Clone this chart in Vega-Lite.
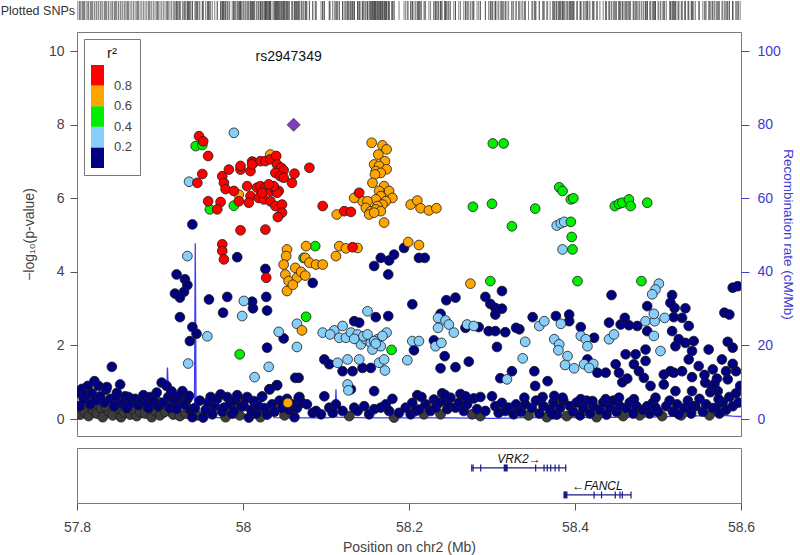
{
"$schema":"https://vega.github.io/schema/vega-lite/v6.json",
"padding":0,
"background":"white",
"config":{"font":"Liberation Sans","view":{"stroke":"#7a7a7a"},"axis":{"grid":false,"titleFontWeight":"normal"}},
"resolve":{"legend":{"fill":"independent"}},
"datasets":{
"snps":[
{"pos":57.804,"lp":0.12,"r2":null},{"pos":57.809,"lp":0.2,"r2":null},{"pos":57.814,"lp":0.08,"r2":null},{"pos":57.819,"lp":0.25,"r2":null},{"pos":57.824,"lp":0.15,"r2":null},{"pos":57.829,"lp":0.3,"r2":null},{"pos":57.831,"lp":0.05,"r2":null},{"pos":57.838,"lp":0.22,"r2":null},{"pos":57.843,"lp":0.1,"r2":null},{"pos":57.85,"lp":0.28,"r2":null},{"pos":57.853,"lp":0.05,"r2":null},{"pos":57.857,"lp":0.18,"r2":null},{"pos":57.864,"lp":0.12,"r2":null},{"pos":57.868,"lp":0.25,"r2":null},{"pos":57.872,"lp":0.08,"r2":null},{"pos":57.876,"lp":0.2,"r2":null},{"pos":57.882,"lp":0.15,"r2":null},{"pos":57.89,"lp":0.05,"r2":null},{"pos":57.894,"lp":0.22,"r2":null},{"pos":57.9,"lp":0.1,"r2":null},{"pos":57.906,"lp":0.2,"r2":null},{"pos":57.916,"lp":0.12,"r2":null},{"pos":57.924,"lp":0.08,"r2":null},{"pos":57.931,"lp":0.15,"r2":null},
{"pos":57.807,"lp":0.4,"r2":null},{"pos":57.817,"lp":0.5,"r2":null},{"pos":57.834,"lp":0.35,"r2":null},{"pos":57.846,"lp":0.45,"r2":null},{"pos":57.861,"lp":0.38,"r2":null},{"pos":57.873,"lp":0.42,"r2":null},{"pos":57.887,"lp":0.33,"r2":null},{"pos":57.897,"lp":0.48,"r2":null},{"pos":57.909,"lp":0.36,"r2":null},{"pos":57.921,"lp":0.44,"r2":null},{"pos":57.934,"lp":0.3,"r2":null},
{"pos":57.945,"lp":0.1,"r2":null},{"pos":57.979,"lp":0.05,"r2":null},{"pos":57.996,"lp":0.1,"r2":null},{"pos":58.021,"lp":0.05,"r2":null},{"pos":58.05,"lp":0.1,"r2":null},
{"pos":58.128,"lp":0.08,"r2":null},{"pos":58.182,"lp":0.04,"r2":null},{"pos":58.238,"lp":0.13,"r2":null},{"pos":58.286,"lp":0.08,"r2":null},{"pos":58.276,"lp":0.13,"r2":null},{"pos":58.218,"lp":0.13,"r2":null},
{"pos":58.344,"lp":0.1,"r2":null},{"pos":58.366,"lp":0.05,"r2":null},{"pos":58.39,"lp":0.08,"r2":null},{"pos":58.426,"lp":0.05,"r2":null},{"pos":58.458,"lp":0.08,"r2":null},{"pos":58.478,"lp":0.1,"r2":null},{"pos":58.505,"lp":0.08,"r2":null},{"pos":58.528,"lp":0.1,"r2":null},{"pos":58.562,"lp":0.1,"r2":null},
{"pos":57.801,"lp":0.72,"r2":0.1},{"pos":57.803,"lp":0.35,"r2":0.1},{"pos":57.806,"lp":0.82,"r2":0.1},{"pos":57.808,"lp":0.55,"r2":0.1},{"pos":57.811,"lp":0.65,"r2":0.1},{"pos":57.813,"lp":0.9,"r2":0.1},{"pos":57.816,"lp":0.4,"r2":0.1},{"pos":57.818,"lp":0.7,"r2":0.1},{"pos":57.821,"lp":1.03,"r2":0.1},{"pos":57.823,"lp":0.5,"r2":0.1},{"pos":57.826,"lp":0.9,"r2":0.1},{"pos":57.828,"lp":0.62,"r2":0.1},{"pos":57.833,"lp":0.45,"r2":0.1},{"pos":57.835,"lp":0.8,"r2":0.1},{"pos":57.836,"lp":0.87,"r2":0.1},{"pos":57.84,"lp":0.55,"r2":0.1},{"pos":57.842,"lp":1.42,"r2":0.1},{"pos":57.845,"lp":0.35,"r2":0.1},{"pos":57.847,"lp":0.6,"r2":0.1},{"pos":57.848,"lp":0.71,"r2":0.1},{"pos":57.852,"lp":0.94,"r2":0.1},{"pos":57.855,"lp":0.42,"r2":0.1},{"pos":57.858,"lp":0.62,"r2":0.1},{"pos":57.86,"lp":0.3,"r2":0.1},{"pos":57.862,"lp":0.6,"r2":0.1},{"pos":57.866,"lp":0.45,"r2":0.1},{"pos":57.87,"lp":0.55,"r2":0.1},{"pos":57.874,"lp":0.38,"r2":0.1},{"pos":57.878,"lp":0.5,"r2":0.1},{"pos":57.88,"lp":0.65,"r2":0.1},{"pos":57.884,"lp":0.42,"r2":0.1},{"pos":57.886,"lp":0.3,"r2":0.1},{"pos":57.888,"lp":0.6,"r2":0.1},{"pos":57.892,"lp":0.5,"r2":0.1},{"pos":57.896,"lp":0.72,"r2":0.1},{"pos":57.898,"lp":0.35,"r2":0.1},{"pos":57.902,"lp":0.99,"r2":0.1},{"pos":57.904,"lp":0.45,"r2":0.1},{"pos":57.908,"lp":0.9,"r2":0.1},{"pos":57.91,"lp":0.6,"r2":0.1},{"pos":57.912,"lp":0.3,"r2":0.1},{"pos":57.914,"lp":0.75,"r2":0.1},{"pos":57.918,"lp":0.5,"r2":0.1},{"pos":57.92,"lp":0.28,"r2":0.1},{"pos":57.922,"lp":0.62,"r2":0.1},{"pos":57.927,"lp":0.76,"r2":0.1},{"pos":57.929,"lp":0.4,"r2":0.1},{"pos":57.933,"lp":0.55,"r2":0.1},{"pos":57.935,"lp":0.63,"r2":0.1},{"pos":57.937,"lp":0.25,"r2":0.1},{"pos":57.939,"lp":0.05,"r2":0.1},
{"pos":57.942,"lp":0.3,"r2":0.1},{"pos":57.948,"lp":0.5,"r2":0.1},{"pos":57.952,"lp":0.04,"r2":0.1},{"pos":57.955,"lp":0.25,"r2":0.1},{"pos":57.958,"lp":0.45,"r2":0.1},{"pos":57.961,"lp":0.6,"r2":0.1},{"pos":57.963,"lp":0.13,"r2":0.1},{"pos":57.966,"lp":0.35,"r2":0.1},{"pos":57.969,"lp":0.55,"r2":0.1},{"pos":57.973,"lp":0.67,"r2":0.1},{"pos":57.975,"lp":0.2,"r2":0.1},{"pos":57.977,"lp":0.31,"r2":0.1},{"pos":57.981,"lp":0.6,"r2":0.1},{"pos":57.984,"lp":0.4,"r2":0.1},{"pos":57.987,"lp":0.15,"r2":0.1},{"pos":57.989,"lp":0.22,"r2":0.1},{"pos":57.991,"lp":0.5,"r2":0.1},{"pos":57.993,"lp":0.65,"r2":0.1},{"pos":57.998,"lp":0.35,"r2":0.1},{"pos":58.001,"lp":0.35,"r2":0.1},{"pos":58.003,"lp":0.55,"r2":0.1},{"pos":58.005,"lp":0.6,"r2":0.1},{"pos":58.007,"lp":0.04,"r2":0.1},{"pos":58.01,"lp":0.25,"r2":0.1},{"pos":58.013,"lp":0.49,"r2":0.1},{"pos":58.016,"lp":0.15,"r2":0.1},{"pos":58.019,"lp":0.35,"r2":0.1},{"pos":58.023,"lp":0.61,"r2":0.1},{"pos":58.026,"lp":0.3,"r2":0.1},{"pos":58.029,"lp":0.12,"r2":0.1},{"pos":58.032,"lp":0.81,"r2":0.1},{"pos":58.035,"lp":0.4,"r2":0.1},{"pos":58.038,"lp":0.2,"r2":0.1},{"pos":58.041,"lp":0.92,"r2":0.1},{"pos":58.044,"lp":0.5,"r2":0.1},{"pos":58.047,"lp":0.3,"r2":0.1},{"pos":58.053,"lp":0.55,"r2":0.1},{"pos":58.056,"lp":0.25,"r2":0.1},{"pos":58.059,"lp":0.4,"r2":0.1},{"pos":58.062,"lp":0.05,"r2":0.1},{"pos":58.065,"lp":0.3,"r2":0.1},{"pos":58.068,"lp":0.6,"r2":0.1},
{"pos":58.067,"lp":0.58,"r2":0.1},{"pos":58.071,"lp":0.44,"r2":0.1},{"pos":58.077,"lp":0.4,"r2":0.1},{"pos":58.084,"lp":0.17,"r2":0.1},{"pos":58.088,"lp":0.22,"r2":0.1},{"pos":58.094,"lp":0.13,"r2":0.1},{"pos":58.104,"lp":0.31,"r2":0.1},{"pos":58.108,"lp":0.17,"r2":0.1},{"pos":58.112,"lp":0.4,"r2":0.1},{"pos":58.12,"lp":0.22,"r2":0.1},{"pos":58.134,"lp":0.31,"r2":0.1},{"pos":58.138,"lp":0.22,"r2":0.1},{"pos":58.146,"lp":0.35,"r2":0.1},{"pos":58.152,"lp":0.13,"r2":0.1},{"pos":58.158,"lp":0.27,"r2":0.1},{"pos":58.166,"lp":0.31,"r2":0.1},{"pos":58.172,"lp":0.4,"r2":0.1},{"pos":58.176,"lp":0.22,"r2":0.1},{"pos":58.188,"lp":0.17,"r2":0.1},{"pos":58.196,"lp":0.31,"r2":0.1},{"pos":58.202,"lp":0.13,"r2":0.1},{"pos":58.204,"lp":0.44,"r2":0.1},{"pos":58.208,"lp":0.22,"r2":0.1},{"pos":58.212,"lp":0.26,"r2":0.1},{"pos":58.22,"lp":0.4,"r2":0.1},{"pos":58.226,"lp":0.22,"r2":0.1},{"pos":58.23,"lp":0.53,"r2":0.1},{"pos":58.232,"lp":0.31,"r2":0.1},{"pos":58.236,"lp":0.44,"r2":0.1},{"pos":58.244,"lp":0.49,"r2":0.1},{"pos":58.246,"lp":0.27,"r2":0.1},{"pos":58.248,"lp":0.35,"r2":0.1},{"pos":58.25,"lp":0.58,"r2":0.1},{"pos":58.256,"lp":0.31,"r2":0.1},{"pos":58.26,"lp":0.44,"r2":0.1},{"pos":58.266,"lp":0.22,"r2":0.1},{"pos":58.27,"lp":0.4,"r2":0.1},{"pos":58.282,"lp":0.27,"r2":0.1},{"pos":58.292,"lp":0.22,"r2":0.1},{"pos":58.304,"lp":0.35,"r2":0.1},{"pos":58.308,"lp":0.17,"r2":0.1},{"pos":58.312,"lp":0.44,"r2":0.1},{"pos":58.316,"lp":0.22,"r2":0.1},{"pos":58.32,"lp":0.31,"r2":0.1},{"pos":58.326,"lp":0.13,"r2":0.1},{"pos":58.329,"lp":0.4,"r2":0.1},{"pos":58.332,"lp":0.22,"r2":0.1},
{"pos":58.158,"lp":0.76,"r2":0.1},{"pos":58.13,"lp":0.81,"r2":0.1},{"pos":58.278,"lp":0.56,"r2":0.1},{"pos":58.067,"lp":1.12,"r2":0.1},{"pos":58.21,"lp":0.65,"r2":0.1},{"pos":58.24,"lp":0.7,"r2":0.1},{"pos":58.262,"lp":0.68,"r2":0.1},{"pos":58.286,"lp":0.6,"r2":0.1},{"pos":58.3,"lp":0.62,"r2":0.1},{"pos":58.098,"lp":0.62,"r2":0.1},{"pos":58.18,"lp":0.55,"r2":0.1},{"pos":58.215,"lp":0.6,"r2":0.1},{"pos":58.243,"lp":0.66,"r2":0.1},{"pos":58.268,"lp":0.62,"r2":0.1},
{"pos":58.335,"lp":0.2,"r2":0.1},{"pos":58.34,"lp":0.4,"r2":0.1},{"pos":58.348,"lp":0.3,"r2":0.1},{"pos":58.353,"lp":0.5,"r2":0.1},{"pos":58.357,"lp":0.15,"r2":0.1},{"pos":58.362,"lp":0.35,"r2":0.1},{"pos":58.37,"lp":0.25,"r2":0.1},{"pos":58.374,"lp":0.45,"r2":0.1},{"pos":58.378,"lp":0.12,"r2":0.1},{"pos":58.382,"lp":0.3,"r2":0.1},{"pos":58.386,"lp":0.5,"r2":0.1},{"pos":58.394,"lp":0.35,"r2":0.1},{"pos":58.398,"lp":0.2,"r2":0.1},{"pos":58.402,"lp":0.45,"r2":0.1},{"pos":58.406,"lp":0.1,"r2":0.1},{"pos":58.41,"lp":0.3,"r2":0.1},{"pos":58.414,"lp":0.5,"r2":0.1},{"pos":58.418,"lp":0.15,"r2":0.1},{"pos":58.422,"lp":0.35,"r2":0.1},{"pos":58.43,"lp":0.25,"r2":0.1},{"pos":58.434,"lp":0.45,"r2":0.1},{"pos":58.438,"lp":0.12,"r2":0.1},{"pos":58.442,"lp":0.3,"r2":0.1},{"pos":58.446,"lp":0.5,"r2":0.1},{"pos":58.45,"lp":0.2,"r2":0.1},{"pos":58.454,"lp":0.35,"r2":0.1},{"pos":58.462,"lp":0.3,"r2":0.1},{"pos":58.466,"lp":0.45,"r2":0.1},{"pos":58.47,"lp":0.15,"r2":0.1},{"pos":58.474,"lp":0.35,"r2":0.1},{"pos":58.482,"lp":0.25,"r2":0.1},{"pos":58.49,"lp":0.15,"r2":0.1},{"pos":58.494,"lp":0.45,"r2":0.1},{"pos":58.5,"lp":0.2,"r2":0.1},{"pos":58.51,"lp":0.35,"r2":0.1},{"pos":58.514,"lp":0.5,"r2":0.1},{"pos":58.518,"lp":0.2,"r2":0.1},{"pos":58.523,"lp":0.4,"r2":0.1},{"pos":58.532,"lp":0.3,"r2":0.1},{"pos":58.536,"lp":0.5,"r2":0.1},{"pos":58.54,"lp":0.15,"r2":0.1},{"pos":58.545,"lp":0.35,"r2":0.1},{"pos":58.55,"lp":0.55,"r2":0.1},{"pos":58.554,"lp":0.2,"r2":0.1},{"pos":58.558,"lp":0.4,"r2":0.1},{"pos":58.566,"lp":0.3,"r2":0.1},{"pos":58.57,"lp":0.3,"r2":0.1},{"pos":58.574,"lp":0.15,"r2":0.1},{"pos":58.578,"lp":0.45,"r2":0.1},{"pos":58.582,"lp":0.25,"r2":0.1},{"pos":58.586,"lp":0.6,"r2":0.1},{"pos":58.59,"lp":0.35,"r2":0.1},{"pos":58.594,"lp":0.7,"r2":0.1},{"pos":58.597,"lp":0.45,"r2":0.1},{"pos":58.599,"lp":0.9,"r2":0.1},
{"pos":58.351,"lp":1.3,"r2":0.1},{"pos":58.367,"lp":1.03,"r2":0.1},{"pos":58.352,"lp":0.9,"r2":0.1},{"pos":58.361,"lp":0.6,"r2":0.1},{"pos":58.339,"lp":0.58,"r2":0.1},{"pos":58.375,"lp":0.63,"r2":0.1},{"pos":58.385,"lp":0.58,"r2":0.1},{"pos":58.407,"lp":0.54,"r2":0.1},{"pos":58.421,"lp":0.49,"r2":0.1},{"pos":58.437,"lp":0.54,"r2":0.1},{"pos":58.453,"lp":0.58,"r2":0.1},{"pos":58.471,"lp":0.54,"r2":0.1},{"pos":58.487,"lp":0.35,"r2":0.1},{"pos":58.373,"lp":0.13,"r2":0.1},{"pos":58.427,"lp":1.26,"r2":0.1},{"pos":58.437,"lp":1.26,"r2":0.1},{"pos":58.449,"lp":1.49,"r2":0.1},{"pos":58.453,"lp":1.26,"r2":0.1},{"pos":58.461,"lp":1.76,"r2":0.1},{"pos":58.473,"lp":1.76,"r2":0.1},{"pos":58.471,"lp":1.49,"r2":0.1},{"pos":58.477,"lp":1.3,"r2":0.1},{"pos":58.483,"lp":1.12,"r2":0.1},{"pos":58.485,"lp":1.58,"r2":0.1},{"pos":58.485,"lp":1.89,"r2":0.1},{"pos":58.491,"lp":0.9,"r2":0.1},{"pos":58.507,"lp":1.21,"r2":0.1},{"pos":58.515,"lp":1.3,"r2":0.1},{"pos":58.519,"lp":1.26,"r2":0.1},{"pos":58.529,"lp":1.3,"r2":0.1},{"pos":58.541,"lp":1.14,"r2":0.1},{"pos":58.507,"lp":0.94,"r2":0.1},{"pos":58.521,"lp":0.76,"r2":0.1},{"pos":58.541,"lp":0.76,"r2":0.1},{"pos":58.557,"lp":0.99,"r2":0.1},{"pos":58.563,"lp":0.73,"r2":0.1},{"pos":58.497,"lp":0.58,"r2":0.1},{"pos":58.497,"lp":0.31,"r2":0.1},{"pos":58.525,"lp":0.13,"r2":0.1},{"pos":58.541,"lp":0.35,"r2":0.1},{"pos":58.565,"lp":0.9,"r2":0.1},{"pos":58.572,"lp":0.76,"r2":0.1},{"pos":58.573,"lp":0.54,"r2":0.1},{"pos":58.584,"lp":1.08,"r2":0.1},{"pos":58.582,"lp":1.3,"r2":0.1},{"pos":58.594,"lp":1.3,"r2":0.1},{"pos":58.59,"lp":1.5,"r2":0.1},{"pos":58.577,"lp":1.62,"r2":0.1},{"pos":58.584,"lp":2.1,"r2":0.1},{"pos":58.59,"lp":1.94,"r2":0.1},{"pos":58.58,"lp":2.89,"r2":0.1},{"pos":58.586,"lp":2.84,"r2":0.1},{"pos":58.59,"lp":3.57,"r2":0.1},{"pos":58.596,"lp":3.61,"r2":0.1},{"pos":58.549,"lp":1.44,"r2":0.1},{"pos":58.561,"lp":1.89,"r2":0.1},{"pos":58.537,"lp":1.62,"r2":0.1},{"pos":58.541,"lp":1.85,"r2":0.1},{"pos":58.521,"lp":1.98,"r2":0.1},{"pos":58.543,"lp":2.12,"r2":0.1},{"pos":58.533,"lp":2.07,"r2":0.1},{"pos":58.525,"lp":2.17,"r2":0.1},{"pos":58.517,"lp":2.39,"r2":0.1},{"pos":58.537,"lp":2.53,"r2":0.1},{"pos":58.529,"lp":2.75,"r2":0.1},{"pos":58.519,"lp":2.77,"r2":0.1},{"pos":58.533,"lp":3.01,"r2":0.1},{"pos":58.52,"lp":3.02,"r2":0.1},{"pos":58.515,"lp":3.16,"r2":0.1},{"pos":58.517,"lp":3.37,"r2":0.1},{"pos":58.487,"lp":2.39,"r2":0.1},{"pos":58.487,"lp":3.07,"r2":0.1},{"pos":58.475,"lp":2.53,"r2":0.1},{"pos":58.465,"lp":2.55,"r2":0.1},{"pos":58.455,"lp":2.57,"r2":0.1},{"pos":58.46,"lp":2.75,"r2":0.1},{"pos":58.444,"lp":3.37,"r2":0.1},{"pos":58.441,"lp":2.62,"r2":0.1},{"pos":58.407,"lp":2.5,"r2":0.1},{"pos":58.393,"lp":2.66,"r2":0.1},{"pos":58.393,"lp":2.84,"r2":0.1},{"pos":58.377,"lp":2.8,"r2":0.1},{"pos":58.349,"lp":2.77,"r2":0.1},{"pos":58.333,"lp":2.44,"r2":0.1},{"pos":58.423,"lp":2.21,"r2":0.1},{"pos":58.415,"lp":1.62,"r2":0.1},{"pos":58.556,"lp":1.2,"r2":0.1},{"pos":58.566,"lp":1.35,"r2":0.1},{"pos":58.571,"lp":1.1,"r2":0.1},{"pos":58.568,"lp":0.95,"r2":0.1},{"pos":58.457,"lp":1.0,"r2":0.1},{"pos":58.463,"lp":1.1,"r2":0.1},
{"pos":58.175,"lp":3.93,"r2":0.1},{"pos":58.084,"lp":3.7,"r2":0.1},{"pos":58.204,"lp":3.12,"r2":0.1},{"pos":58.245,"lp":3.23,"r2":0.1},{"pos":58.256,"lp":3.3,"r2":0.1},{"pos":58.16,"lp":2.77,"r2":0.1},{"pos":58.175,"lp":2.8,"r2":0.1},{"pos":58.238,"lp":2.86,"r2":0.1},{"pos":58.292,"lp":3.32,"r2":0.1},{"pos":58.312,"lp":3.48,"r2":0.1},{"pos":58.298,"lp":3.13,"r2":0.1},{"pos":58.304,"lp":3.02,"r2":0.1},{"pos":58.312,"lp":3.0,"r2":0.1},{"pos":58.304,"lp":2.84,"r2":0.1},{"pos":58.134,"lp":2.66,"r2":0.1},{"pos":58.14,"lp":2.62,"r2":0.1},{"pos":58.268,"lp":2.48,"r2":0.1},{"pos":58.296,"lp":2.39,"r2":0.1},{"pos":58.304,"lp":2.39,"r2":0.1},{"pos":58.316,"lp":2.36,"r2":0.1},{"pos":58.329,"lp":2.48,"r2":0.1},{"pos":58.284,"lp":2.5,"r2":0.1},{"pos":58.206,"lp":1.87,"r2":0.1},{"pos":58.23,"lp":2.14,"r2":0.1},{"pos":58.243,"lp":1.71,"r2":0.1},{"pos":58.098,"lp":1.62,"r2":0.1},{"pos":58.104,"lp":1.49,"r2":0.1},{"pos":58.12,"lp":1.3,"r2":0.1},{"pos":58.132,"lp":1.3,"r2":0.1},{"pos":58.144,"lp":1.39,"r2":0.1},{"pos":58.154,"lp":1.39,"r2":0.1},{"pos":58.238,"lp":1.38,"r2":0.1},{"pos":58.256,"lp":1.41,"r2":0.1},{"pos":58.272,"lp":1.56,"r2":0.1},{"pos":58.306,"lp":1.96,"r2":0.1},{"pos":58.31,"lp":1.11,"r2":0.1},{"pos":58.324,"lp":1.3,"r2":0.1},
{"pos":57.939,"lp":5.29,"r2":0.1},{"pos":57.993,"lp":4.4,"r2":0.1},{"pos":58.027,"lp":4.08,"r2":0.1},{"pos":58.194,"lp":4.65,"r2":0.1},{"pos":58.182,"lp":4.47,"r2":0.1},{"pos":58.176,"lp":4.31,"r2":0.1},{"pos":58.166,"lp":4.38,"r2":0.1},{"pos":58.158,"lp":4.16,"r2":0.1},{"pos":58.212,"lp":4.38,"r2":0.1},{"pos":58.219,"lp":4.38,"r2":0.1},
{"pos":57.92,"lp":3.93,"r2":0.1},{"pos":57.93,"lp":3.8,"r2":0.1},{"pos":57.933,"lp":3.64,"r2":0.1},{"pos":57.918,"lp":3.41,"r2":0.1},{"pos":57.929,"lp":3.46,"r2":0.1},{"pos":57.924,"lp":3.3,"r2":0.1},{"pos":57.959,"lp":3.25,"r2":0.1},{"pos":57.981,"lp":3.32,"r2":0.1},{"pos":57.976,"lp":2.89,"r2":0.1},{"pos":58.011,"lp":3.19,"r2":0.1},{"pos":58.012,"lp":3.01,"r2":0.1},{"pos":58.028,"lp":3.32,"r2":0.1},{"pos":58.029,"lp":2.95,"r2":0.1},{"pos":57.924,"lp":2.77,"r2":0.1},{"pos":57.939,"lp":2.5,"r2":0.1},{"pos":57.944,"lp":2.32,"r2":0.1},{"pos":57.936,"lp":2.12,"r2":0.1},{"pos":58.029,"lp":1.94,"r2":0.1},{"pos":58.049,"lp":2.19,"r2":0.1},{"pos":58.063,"lp":1.12,"r2":0.1},{"pos":58.041,"lp":0.92,"r2":0.1},{"pos":58.032,"lp":0.81,"r2":0.1},{"pos":58.023,"lp":0.61,"r2":0.1},
{"pos":57.989,"lp":7.78,"r2":0.3},{"pos":57.935,"lp":6.45,"r2":0.3},{"pos":57.933,"lp":4.43,"r2":0.3},{"pos":58.378,"lp":5.26,"r2":0.3},{"pos":58.383,"lp":5.32,"r2":0.3},{"pos":58.387,"lp":5.36,"r2":0.3},{"pos":58.385,"lp":4.61,"r2":0.3},{"pos":58.501,"lp":3.68,"r2":0.3},{"pos":58.497,"lp":3.52,"r2":0.3},{"pos":58.493,"lp":3.39,"r2":0.3},{"pos":58.001,"lp":3.21,"r2":0.3},{"pos":57.999,"lp":2.8,"r2":0.3},{"pos":57.957,"lp":2.25,"r2":0.3},{"pos":58.043,"lp":2.37,"r2":0.3},{"pos":58.065,"lp":2.59,"r2":0.3},{"pos":58.065,"lp":1.96,"r2":0.3},{"pos":57.934,"lp":1.51,"r2":0.3},{"pos":58.031,"lp":1.42,"r2":0.3},{"pos":58.014,"lp":1.14,"r2":0.3},{"pos":58.15,"lp":2.93,"r2":0.3},{"pos":58.096,"lp":2.35,"r2":0.3},{"pos":58.11,"lp":2.41,"r2":0.3},{"pos":58.12,"lp":2.53,"r2":0.3},{"pos":58.116,"lp":2.21,"r2":0.3},{"pos":58.124,"lp":2.21,"r2":0.3},{"pos":58.13,"lp":2.35,"r2":0.3},{"pos":58.138,"lp":2.3,"r2":0.3},{"pos":58.142,"lp":2.03,"r2":0.3},{"pos":58.148,"lp":2.17,"r2":0.3},{"pos":58.154,"lp":2.07,"r2":0.3},{"pos":58.156,"lp":1.89,"r2":0.3},{"pos":58.162,"lp":2.17,"r2":0.3},{"pos":58.166,"lp":1.98,"r2":0.3},{"pos":58.173,"lp":2.35,"r2":0.3},{"pos":58.168,"lp":2.26,"r2":0.3},{"pos":58.204,"lp":2.12,"r2":0.3},{"pos":58.212,"lp":2.12,"r2":0.3},{"pos":58.198,"lp":1.6,"r2":0.3},{"pos":58.232,"lp":1.98,"r2":0.3},{"pos":58.239,"lp":2.07,"r2":0.3},{"pos":58.235,"lp":2.75,"r2":0.3},{"pos":58.244,"lp":2.68,"r2":0.3},{"pos":58.248,"lp":2.57,"r2":0.3},{"pos":58.235,"lp":2.48,"r2":0.3},{"pos":58.254,"lp":2.35,"r2":0.3},{"pos":58.27,"lp":2.57,"r2":0.3},{"pos":58.278,"lp":2.53,"r2":0.3},{"pos":58.114,"lp":1.53,"r2":0.3},{"pos":58.126,"lp":1.62,"r2":0.3},{"pos":58.14,"lp":1.62,"r2":0.3},{"pos":58.164,"lp":1.53,"r2":0.3},{"pos":58.17,"lp":1.62,"r2":0.3},{"pos":58.171,"lp":1.32,"r2":0.3},{"pos":58.126,"lp":0.94,"r2":0.3},{"pos":58.127,"lp":0.78,"r2":0.3},{"pos":58.318,"lp":1.08,"r2":0.3},{"pos":58.357,"lp":2.53,"r2":0.3},{"pos":58.363,"lp":2.66,"r2":0.3},{"pos":58.383,"lp":2.59,"r2":0.3},{"pos":58.34,"lp":2.1,"r2":0.3},{"pos":58.337,"lp":1.65,"r2":0.3},{"pos":58.375,"lp":2.17,"r2":0.3},{"pos":58.381,"lp":2.03,"r2":0.3},{"pos":58.38,"lp":1.87,"r2":0.3},{"pos":58.391,"lp":1.71,"r2":0.3},{"pos":58.388,"lp":1.47,"r2":0.3},{"pos":58.399,"lp":1.38,"r2":0.3},{"pos":58.407,"lp":2.26,"r2":0.3},{"pos":58.413,"lp":2.17,"r2":0.3},{"pos":58.415,"lp":1.98,"r2":0.3},{"pos":58.411,"lp":1.49,"r2":0.3},{"pos":58.422,"lp":1.5,"r2":0.3},{"pos":58.417,"lp":1.39,"r2":0.3},{"pos":58.441,"lp":2.17,"r2":0.3},{"pos":58.447,"lp":2.3,"r2":0.3},{"pos":58.485,"lp":2.66,"r2":0.3},{"pos":58.496,"lp":2.66,"r2":0.3},{"pos":58.495,"lp":2.86,"r2":0.3},{"pos":58.508,"lp":2.75,"r2":0.3},{"pos":58.495,"lp":2.26,"r2":0.3},{"pos":58.503,"lp":1.85,"r2":0.3},{"pos":58.145,"lp":2.25,"r2":0.3},{"pos":58.158,"lp":2.12,"r2":0.3},{"pos":58.134,"lp":2.18,"r2":0.3},{"pos":58.15,"lp":2.3,"r2":0.3},{"pos":58.16,"lp":2.05,"r2":0.3},{"pos":58.105,"lp":2.3,"r2":0.3},
{"pos":57.943,"lp":7.42,"r2":0.5},{"pos":57.951,"lp":7.45,"r2":0.5},{"pos":57.96,"lp":5.7,"r2":0.5},{"pos":57.989,"lp":5.8,"r2":0.5},{"pos":58.301,"lp":7.49,"r2":0.5},{"pos":58.314,"lp":7.49,"r2":0.5},{"pos":58.277,"lp":5.77,"r2":0.5},{"pos":58.3,"lp":5.85,"r2":0.5},{"pos":58.324,"lp":5.24,"r2":0.5},{"pos":58.087,"lp":4.7,"r2":0.5},{"pos":58.073,"lp":4.38,"r2":0.5},{"pos":58.381,"lp":6.3,"r2":0.5},{"pos":58.385,"lp":6.2,"r2":0.5},{"pos":58.395,"lp":5.97,"r2":0.5},{"pos":58.398,"lp":6.0,"r2":0.5},{"pos":58.352,"lp":5.72,"r2":0.5},{"pos":58.395,"lp":5.36,"r2":0.5},{"pos":58.396,"lp":4.95,"r2":0.5},{"pos":58.397,"lp":4.61,"r2":0.5},{"pos":58.448,"lp":5.79,"r2":0.5},{"pos":58.453,"lp":5.85,"r2":0.5},{"pos":58.457,"lp":5.88,"r2":0.5},{"pos":58.465,"lp":5.97,"r2":0.5},{"pos":58.467,"lp":5.79,"r2":0.5},{"pos":58.487,"lp":5.88,"r2":0.5},{"pos":58.403,"lp":3.75,"r2":0.5},{"pos":58.48,"lp":3.75,"r2":0.5},{"pos":58.298,"lp":3.75,"r2":0.5},{"pos":58.179,"lp":1.88,"r2":0.5},{"pos":58.076,"lp":2.78,"r2":0.5},{"pos":57.996,"lp":1.76,"r2":0.5},
{"pos":58.033,"lp":7.19,"r2":0.7},{"pos":57.995,"lp":6.1,"r2":0.7},{"pos":58.155,"lp":7.51,"r2":0.7},{"pos":58.168,"lp":7.44,"r2":0.7},{"pos":58.173,"lp":7.33,"r2":0.7},{"pos":58.163,"lp":7.19,"r2":0.7},{"pos":58.171,"lp":7.01,"r2":0.7},{"pos":58.158,"lp":6.92,"r2":0.7},{"pos":58.164,"lp":6.88,"r2":0.7},{"pos":58.173,"lp":6.79,"r2":0.7},{"pos":58.16,"lp":6.74,"r2":0.7},{"pos":58.166,"lp":6.69,"r2":0.7},{"pos":58.159,"lp":6.65,"r2":0.7},{"pos":58.156,"lp":6.42,"r2":0.7},{"pos":58.17,"lp":6.33,"r2":0.7},{"pos":58.176,"lp":6.2,"r2":0.7},{"pos":58.164,"lp":6.2,"r2":0.7},{"pos":58.18,"lp":6.01,"r2":0.7},{"pos":58.166,"lp":6.06,"r2":0.7},{"pos":58.172,"lp":5.92,"r2":0.7},{"pos":58.16,"lp":5.97,"r2":0.7},{"pos":58.168,"lp":5.83,"r2":0.7},{"pos":58.162,"lp":5.79,"r2":0.7},{"pos":58.138,"lp":6.06,"r2":0.7},{"pos":58.144,"lp":5.92,"r2":0.7},{"pos":58.15,"lp":5.92,"r2":0.7},{"pos":58.148,"lp":5.74,"r2":0.7},{"pos":58.154,"lp":5.65,"r2":0.7},{"pos":58.16,"lp":5.7,"r2":0.7},{"pos":58.166,"lp":5.65,"r2":0.7},{"pos":58.152,"lp":5.56,"r2":0.7},{"pos":58.158,"lp":5.61,"r2":0.7},{"pos":58.134,"lp":6.01,"r2":0.7},{"pos":58.113,"lp":5.56,"r2":0.7},{"pos":58.17,"lp":5.34,"r2":0.7},{"pos":58.202,"lp":5.83,"r2":0.7},{"pos":58.21,"lp":5.94,"r2":0.7},{"pos":58.214,"lp":5.73,"r2":0.7},{"pos":58.224,"lp":5.67,"r2":0.7},{"pos":58.233,"lp":5.73,"r2":0.7},
{"pos":58.076,"lp":4.7,"r2":0.7},{"pos":58.116,"lp":4.7,"r2":0.7},{"pos":58.124,"lp":4.64,"r2":0.7},{"pos":58.138,"lp":4.65,"r2":0.7},{"pos":58.112,"lp":4.43,"r2":0.7},{"pos":58.199,"lp":4.81,"r2":0.7},{"pos":58.212,"lp":4.73,"r2":0.7},{"pos":58.075,"lp":4.38,"r2":0.7},{"pos":58.08,"lp":4.25,"r2":0.7},{"pos":58.088,"lp":4.2,"r2":0.7},{"pos":58.096,"lp":4.2,"r2":0.7},{"pos":58.053,"lp":4.61,"r2":0.7},{"pos":58.052,"lp":4.43,"r2":0.7},{"pos":58.049,"lp":4.2,"r2":0.7},{"pos":58.063,"lp":4.11,"r2":0.7},{"pos":58.051,"lp":3.93,"r2":0.7},{"pos":58.055,"lp":3.75,"r2":0.7},{"pos":58.053,"lp":3.48,"r2":0.7},{"pos":58.065,"lp":3.84,"r2":0.7},{"pos":58.07,"lp":4.0,"r2":0.7},{"pos":58.075,"lp":3.9,"r2":0.7},{"pos":58.06,"lp":3.65,"r2":0.7},{"pos":58.071,"lp":2.41,"r2":0.7},{"pos":58.274,"lp":3.68,"r2":0.7},{"pos":58.054,"lp":0.44,"r2":0.7},
{"pos":57.947,"lp":7.69,"r2":0.9},{"pos":57.952,"lp":7.55,"r2":0.9},{"pos":57.958,"lp":7.15,"r2":0.9},{"pos":57.951,"lp":6.66,"r2":0.9},{"pos":57.945,"lp":6.42,"r2":0.9},{"pos":57.975,"lp":6.6,"r2":0.9},{"pos":57.977,"lp":6.42,"r2":0.9},{"pos":57.979,"lp":6.25,"r2":0.9},{"pos":57.983,"lp":6.78,"r2":0.9},{"pos":57.989,"lp":6.2,"r2":0.9},{"pos":57.995,"lp":5.92,"r2":0.9},{"pos":57.997,"lp":6.78,"r2":0.9},{"pos":58.009,"lp":6.74,"r2":0.9},{"pos":58.011,"lp":7.0,"r2":0.9},{"pos":58.013,"lp":6.97,"r2":0.9},{"pos":58.005,"lp":6.33,"r2":0.9},{"pos":57.958,"lp":5.92,"r2":0.9},{"pos":57.973,"lp":5.9,"r2":0.9},{"pos":57.969,"lp":5.7,"r2":0.9},{"pos":57.997,"lp":5.13,"r2":0.9},{"pos":58.027,"lp":5.15,"r2":0.9},{"pos":57.975,"lp":4.75,"r2":0.9},{"pos":57.975,"lp":4.57,"r2":0.9},{"pos":57.977,"lp":4.34,"r2":0.9},{"pos":58.08,"lp":6.83,"r2":0.9},{"pos":58.096,"lp":5.79,"r2":0.9},{"pos":58.122,"lp":5.65,"r2":0.9},{"pos":58.13,"lp":5.63,"r2":0.9},{"pos":58.14,"lp":6.15,"r2":0.9},{"pos":58.132,"lp":4.67,"r2":0.9},{"pos":58.028,"lp":3.84,"r2":0.9},
{"pos":58.017,"lp":6.29,"r2":0.9},{"pos":58.021,"lp":6.33,"r2":0.9},{"pos":58.027,"lp":6.29,"r2":0.9},{"pos":58.033,"lp":6.2,"r2":0.9},{"pos":58.039,"lp":6.24,"r2":0.9},{"pos":58.043,"lp":6.2,"r2":0.9},{"pos":58.009,"lp":6.06,"r2":0.9},{"pos":58.007,"lp":5.88,"r2":0.9},{"pos":58.019,"lp":6.01,"r2":0.9},{"pos":58.025,"lp":5.97,"r2":0.9},{"pos":58.033,"lp":5.92,"r2":0.9},{"pos":58.039,"lp":5.79,"r2":0.9},{"pos":58.047,"lp":5.83,"r2":0.9},{"pos":58.047,"lp":5.61,"r2":0.9},{"pos":58.042,"lp":5.49,"r2":0.9},{"pos":58.021,"lp":7.01,"r2":0.9},{"pos":58.027,"lp":7.01,"r2":0.9},{"pos":58.033,"lp":7.06,"r2":0.9},{"pos":58.04,"lp":7.15,"r2":0.9},{"pos":58.041,"lp":6.92,"r2":0.9},{"pos":58.046,"lp":6.83,"r2":0.9},{"pos":58.049,"lp":6.76,"r2":0.9},{"pos":58.039,"lp":6.69,"r2":0.9},{"pos":58.045,"lp":6.6,"r2":0.9},{"pos":58.049,"lp":6.56,"r2":0.9},{"pos":58.062,"lp":6.67,"r2":0.9},{"pos":58.059,"lp":6.42,"r2":0.9},{"pos":57.997,"lp":6.88,"r2":0.9},{"pos":58.011,"lp":6.92,"r2":0.9},{"pos":58.041,"lp":6.15,"r2":0.9},{"pos":58.037,"lp":6.33,"r2":0.9},{"pos":58.031,"lp":6.38,"r2":0.9},{"pos":58.023,"lp":6.15,"r2":0.9}
],
"recomb":[
{"pos":57.8,"rate":0.6},{"pos":57.82,"rate":0.5},{"pos":57.85,"rate":0.4},{"pos":57.88,"rate":0.5},{"pos":57.907,"rate":0.6},{"pos":57.909,"rate":14},{"pos":57.911,"rate":0.8},{"pos":57.93,"rate":0.5},{"pos":57.9415,"rate":1},{"pos":57.9425,"rate":47.8},{"pos":57.9435,"rate":1.5},{"pos":57.95,"rate":0.5},{"pos":57.97,"rate":0.4},{"pos":58.0,"rate":0.3},{"pos":58.031,"rate":0.4},{"pos":58.032,"rate":3.1},{"pos":58.0335,"rate":0.5},{"pos":58.036,"rate":1.7},{"pos":58.0375,"rate":0.4},{"pos":58.07,"rate":0.3},{"pos":58.1,"rate":0.3},{"pos":58.111,"rate":0.5},{"pos":58.112,"rate":8.1},{"pos":58.113,"rate":0.5},{"pos":58.15,"rate":0.3},{"pos":58.2,"rate":0.3},{"pos":58.25,"rate":0.3},{"pos":58.3,"rate":0.2},{"pos":58.33,"rate":0.3},{"pos":58.35,"rate":0.5},{"pos":58.4,"rate":0.4},{"pos":58.45,"rate":0.5},{"pos":58.5,"rate":0.6},{"pos":58.53,"rate":0.8},{"pos":58.55,"rate":0.9},{"pos":58.56,"rate":1.2},{"pos":58.565,"rate":0.8},{"pos":58.572,"rate":1.4},{"pos":58.575,"rate":0.9},{"pos":58.58,"rate":1.0},{"pos":58.59,"rate":0.8},{"pos":58.6,"rate":0.7}
],
"genes":[
{"gene":"VRK2","start":58.2756,"end":58.3895,"mid":58.3325,"track":1,"label":"VRK2→"},
{"gene":"FANCL","start":58.3865,"end":58.4675,"mid":58.427,"track":2,"label":"←FANCL"}
],
"exons":[
{"pos":58.2756,"track":1},{"pos":58.2772,"track":1},{"pos":58.2864,"track":1},{"pos":58.3526,"track":1},{"pos":58.3627,"track":1},{"pos":58.3666,"track":1},{"pos":58.3707,"track":1},{"pos":58.376,"track":1},{"pos":58.3807,"track":1},{"pos":58.3888,"track":1},
{"pos":58.423,"track":2},{"pos":58.432,"track":2},{"pos":58.4485,"track":2},{"pos":58.4542,"track":2},{"pos":58.457,"track":2},{"pos":58.4675,"track":2}
],
"blocks":[{"pos":58.3165,"track":1},{"pos":58.3885,"track":2}]
},
"spacing":10,
"vconcat":[
{
"width":664,"height":19,
"view":{"stroke":null},
"layer":[
{"data":{"name":"snps"},"mark":{"type":"rule","stroke":"#505050","strokeWidth":0.9,"opacity":0.8},
 "encoding":{"x":{"field":"pos","type":"quantitative","scale":{"domain":[57.8,58.6],"nice":false,"zero":false},"axis":null}}},
{"data":{"values":[{"t":"Plotted SNPs"}]},"mark":{"type":"text","align":"right","baseline":"middle","dx":-2,"fontSize":12.5,"color":"#333"},
 "encoding":{"x":{"datum":57.8},"text":{"field":"t"}}}
]
},
{
"width":664,"height":404,
"layer":[
{"data":{"name":"recomb"},"mark":{"type":"line","stroke":"#3d3df5","strokeWidth":1.3,"clip":true},
 "encoding":{
  "x":{"field":"pos","type":"quantitative","scale":{"domain":[57.8,58.6],"nice":false,"zero":false},"axis":null},
  "y":{"field":"rate","type":"quantitative","scale":{"domain":[-4.6,105.2],"nice":false,"zero":false},
   "axis":{"orient":"right","values":[0,20,40,60,80,100],"title":"Recombination rate (cM/Mb)","domain":false,"tickColor":"#3b3bd0","tickSize":8,"labelColor":"#3b3bd0","titleColor":"#3b3bd0","labelFontSize":14,"titleFontSize":13.5,"labelPadding":8,"titlePadding":0}}}},
{
"encoding":{
 "x":{"field":"pos","type":"quantitative","scale":{"domain":[57.8,58.6],"nice":false,"zero":false},"axis":null},
 "y":{"field":"lp","type":"quantitative","scale":{"domain":[-0.46,10.52],"nice":false,"zero":false},
  "axis":{"values":[0,2,4,6,8,10],"title":"−log₁₀(p-value)","domain":false,"tickSize":7,"tickColor":"#555","labelFontSize":14,"labelColor":"#444","labelPadding":6,"titleFontSize":14,"titleColor":"#444","titlePadding":12}}
},
"layer":[
{"data":{"name":"snps"},"transform":[{"filter":"datum.r2 == null"}],
 "mark":{"type":"circle","size":95,"opacity":1,"fill":"#3c3c3c","stroke":"#1a1a1a","strokeWidth":0.8,"clip":true}},
{"data":{"name":"snps"},"transform":[{"filter":"datum.r2 != null"}],
 "mark":{"type":"circle","size":95,"opacity":1,"stroke":"#1a1a1a","strokeWidth":0.8,"clip":true},
 "encoding":{"fill":{"field":"r2","type":"quantitative",
   "scale":{"type":"threshold","domain":[0.2,0.4,0.6,0.8],"range":["#000080","#87CEFA","#00EE00","#FFA500","#FF0000"]},
   "legend":{"title":"r²","type":"gradient","direction":"vertical","orient":"top-left","offset":7,"padding":7,"strokeColor":"#777","fillColor":"white","gradientLength":103,"gradientThickness":13,"gradientStrokeWidth":0,"labelFontSize":13,"labelColor":"#444","labelOffset":10,"titleFontSize":15,"titleFontWeight":"normal","titleAnchor":"middle","titleColor":"#222","titlePadding":4}}}},
{"data":{"values":[{"snp":"rs2947349","pos":58.061,"lp":8.0}]},
 "mark":{"type":"point","shape":"diamond","filled":true,"fill":"#7f3fbf","stroke":"#333","strokeWidth":0.8,"size":170,"opacity":1}},
{"data":{"values":[{"snp":"rs2947349","pos":58.061,"lp":8.0}]},
 "mark":{"type":"text","fontSize":14,"color":"#111","dx":-5},
 "encoding":{"y":{"datum":9.85},"text":{"field":"snp"}}}
]
}
],
"resolve":{"scale":{"y":"independent"}}
},
{
"width":664,"height":55,
"layer":[
{"data":{"name":"genes"},"mark":{"type":"rule","stroke":"#1a1a8a","strokeWidth":1.3},
 "encoding":{
  "x":{"field":"start","type":"quantitative","scale":{"domain":[57.8,58.6],"nice":false,"zero":false},
   "axis":{"values":[57.8,58,58.2,58.4,58.6],"format":".1~f","title":"Position on chr2 (Mb)","domain":false,"tickSize":7,"tickColor":"#555","labelFontSize":14,"labelColor":"#444","labelPadding":10,"titleFontSize":14,"titleColor":"#444","titlePadding":6,"labelFlush":false}},
  "x2":{"field":"end"},
  "y":{"field":"track","type":"quantitative","scale":{"domain":[0.26,2.3],"reverse":true,"nice":false,"zero":false},"axis":null}}},
{"data":{"name":"exons"},"mark":{"type":"tick","orient":"vertical","size":7,"thickness":1.2,"color":"#1a1a8a","opacity":1},
 "encoding":{"x":{"field":"pos","type":"quantitative","title":"Position on chr2 (Mb)"},"y":{"field":"track","type":"quantitative"}}},
{"data":{"name":"blocks"},"mark":{"type":"tick","orient":"vertical","size":7,"thickness":4,"color":"#1a1a8a","opacity":1},
 "encoding":{"x":{"field":"pos","type":"quantitative","title":"Position on chr2 (Mb)"},"y":{"field":"track","type":"quantitative"}}},
{"data":{"name":"genes"},"mark":{"type":"text","fontStyle":"italic","fontSize":12,"dy":-9,"color":"#111"},
 "encoding":{"x":{"field":"mid","type":"quantitative","title":"Position on chr2 (Mb)"},"y":{"field":"track","type":"quantitative"},"text":{"field":"label"}}}
]
}
]
}
